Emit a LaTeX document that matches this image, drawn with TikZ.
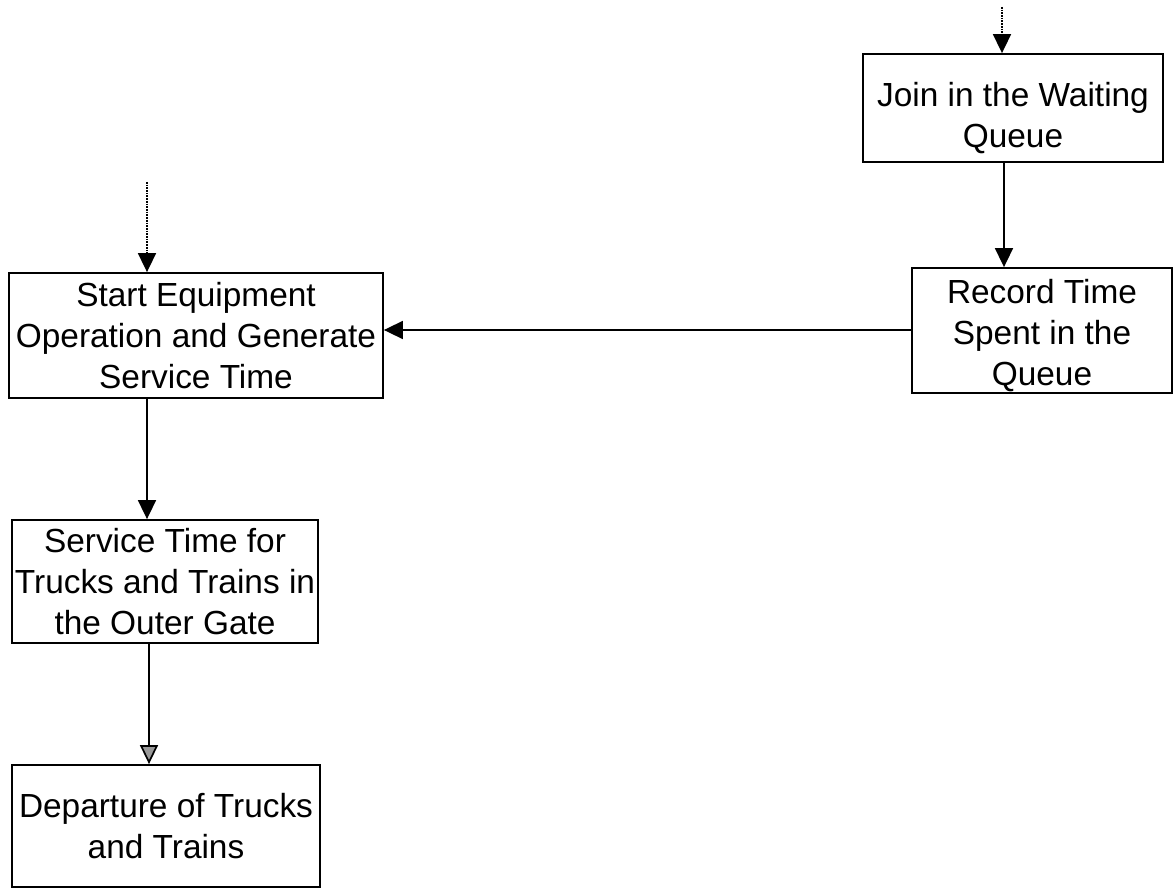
\documentclass[tikz,border=0pt]{standalone}
\usepackage{fontspec}
\setmainfont{Liberation Sans}
\usetikzlibrary{arrows.meta}
% a strut on a first line pushes the whole text block down inside its box
\newcommand\firstlinestrut[1]{\rule{0pt}{#1}}
\begin{document}
\begin{tikzpicture}[x=1pt,y=-1pt,
  box/.style={draw, line width=1.8pt, inner sep=0pt, align=center,
    font=\fontsize{33.4}{41}\selectfont},
  flow/.style={line width=1.7pt, -{Triangle[length=19pt,width=18pt]}},
  feed/.style={flow, densely dotted},
  lastflow/.style={line width=1.7pt, -{Triangle[length=19pt,width=18pt,fill=black!40]}}]
\useasboundingbox (0,0) rectangle (1176,888);

% process boxes
\node[box, minimum width=300pt, minimum height=108pt] (join) at (1013,108)
  {\firstlinestrut{45pt}Join in the Waiting\\Queue};
\node[box, minimum width=260pt, minimum height=125pt] (rec) at (1042,330.5)
  {\firstlinestrut{34.4pt}Record Time\\Spent in the\\Queue};
\node[box, minimum width=374pt, minimum height=125pt] (start) at (196,335.5)
  {Start Equipment\\Operation and Generate\\Service Time};
\node[box, minimum width=306pt, minimum height=123pt] (serv) at (165,581.5)
  {Service Time for\\Trucks and Trains in\\the Outer Gate};
\node[box, minimum width=308pt, minimum height=122pt] (dep) at (166,826)
  {Departure of Trucks\\and Trains};

% guide coordinates for the connectors
\coordinate (inJ) at (1002,7);
\coordinate (inS) at (147,182);
\coordinate (jr) at (1004,0);
\coordinate (rs) at (0,330);
\coordinate (sv) at (147,0);
\coordinate (vd) at (149,0);

% incoming feeds
\draw[feed] (inJ) -- (join.north -| inJ);
\draw[feed] (inS) -- (start.north -| inS);

% flow between steps
\draw[flow] (join.south -| jr) -- (rec.north -| jr);
\draw[flow] (rec.west |- rs) -- (start.east |- rs);
\draw[flow] (start.south -| sv) -- (serv.north -| sv);
\draw[lastflow] (serv.south -| vd) -- (dep.north -| vd);
\end{tikzpicture}
\end{document}
